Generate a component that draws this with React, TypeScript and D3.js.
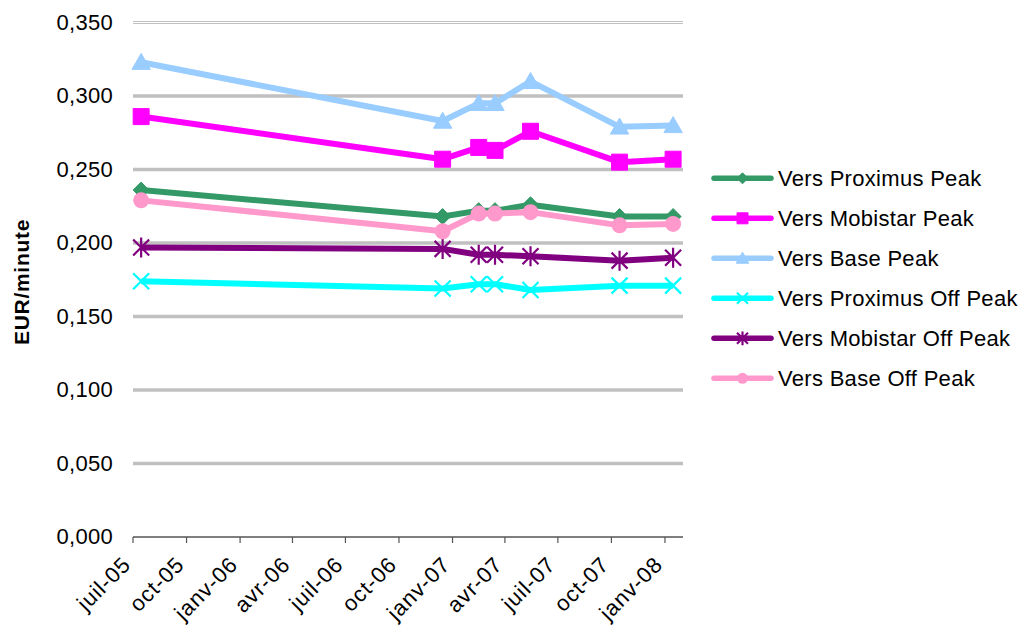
import React from 'react';
import * as d3 from 'd3';

// measurement dates (mid-month)
const dates = ['2005-07-15', '2006-12-15', '2007-02-15', '2007-03-15', '2007-05-15', '2007-10-15', '2008-01-15'];

const seriesNames = [
  'Vers Proximus Peak',
  'Vers Mobistar Peak',
  'Vers Base Peak',
  'Vers Proximus Off Peak',
  'Vers Mobistar Off Peak',
  'Vers Base Off Peak',
];

const proximusPeak = [0.236, 0.218, 0.222, 0.222, 0.226, 0.218, 0.218];
const mobistarPeak = [0.286, 0.257, 0.265, 0.263, 0.276, 0.255, 0.257];
const basePeak = [0.323, 0.283, 0.295, 0.295, 0.310, 0.279, 0.280];
const proximusOffPeak = [0.174, 0.169, 0.172, 0.172, 0.168, 0.171, 0.171];
const mobistarOffPeak = [0.197, 0.196, 0.192, 0.192, 0.191, 0.188, 0.190];
const baseOffPeak = [0.229, 0.208, 0.220, 0.220, 0.221, 0.212, 0.213];

const seriesValues = [proximusPeak, mobistarPeak, basePeak, proximusOffPeak, mobistarOffPeak, baseOffPeak];
const seriesColors = ['#339966', '#FF00FF', '#99CCFF', '#00FFFF', '#800080', '#FF99CC'];
const seriesMarkers = ['diamond', 'square', 'triangle', 'x', 'asterisk', 'circle'];

const monthNames = ['janv', 'févr', 'mars', 'avr', 'mai', 'juin', 'juil', 'août', 'sept', 'oct', 'nov', 'déc'];
const yTicks = [0, 0.05, 0.1, 0.15, 0.2, 0.25, 0.3, 0.35];

const font = 'Arial, "Liberation Sans", sans-serif';

const markerPath = (type: string, s: number) => {
  switch (type) {
    case 'diamond':
      return `M0,${-s}L${s},0L0,${s}L${-s},0Z`;
    case 'square':
      return `M${-s},${-s}H${s}V${s}H${-s}Z`;
    case 'triangle':
      return `M0,${-s * 1.1}L${s * 1.15},${s * 0.9}L${-s * 1.15},${s * 0.9}Z`;
    case 'x':
      return `M${-s},${-s}L${s},${s}M${s},${-s}L${-s},${s}`;
    case 'asterisk':
      return `M${-s},${-s}L${s},${s}M${s},${-s}L${-s},${s}M0,${-s * 1.25}V${s * 1.25}`;
    default:
      return '';
  }
};

const Marker = ({ type, color, x, y, s }: { type: string; color: string; x: number; y: number; s: number }) => {
  if (type === 'circle') {
    return <circle cx={x} cy={y} r={s} fill={color} />;
  }
  const open = type === 'x' || type === 'asterisk';
  return (
    <path
      d={markerPath(type, s)}
      transform={`translate(${x},${y})`}
      fill={open ? 'none' : color}
      stroke={color}
      strokeWidth={open ? 2.2 : 1}
    />
  );
};

export default function App() {
  const parse = d3.timeParse('%Y-%m-%d');
  const dateValues = dates.map((d) => parse(d) as Date);

  const x = d3
    .scaleTime()
    .domain([new Date(2005, 6, 1), new Date(2008, 1, 1)])
    .range([133, 683]);
  const y = d3.scaleLinear().domain([0, 0.35]).range([537, 22.5]);

  const xTicks = x.ticks(d3.timeMonth.every(3) as d3.TimeInterval);
  const fmt = d3.formatLocale({ decimal: ',', thousands: ' ', grouping: [3], currency: ['', '€'] }).format('.3f');

  const line = d3
    .line<number>()
    .x((_, i) => x(dateValues[i]))
    .y((v) => y(v));

  const [x0, x1] = x.range();
  const axisY = y(0);

  return (
    <svg width={1024} height={632} style={{ position: 'absolute', left: 0, top: 0, background: '#fff' }} fontFamily={font}>
      {/* gridlines */}
      {yTicks.slice(1).map((t) =>
        t === 0.35 ? (
          <g key={t} stroke="#C0C0C0" strokeWidth={1}>
            <line x1={x0} x2={x1} y1={y(t) - 1} y2={y(t) - 1} />
            <line x1={x0} x2={x1} y1={y(t) + 1} y2={y(t) + 1} />
          </g>
        ) : (
          <line key={t} x1={x0} x2={x1} y1={y(t)} y2={y(t)} stroke="#C0C0C0" strokeWidth={3.5} />
        )
      )}

      {/* y tick labels */}
      {yTicks.map((t) => (
        <text key={t} x={113} y={y(t)} dy="0.34em" textAnchor="end" fontSize={22} letterSpacing={0.3} fill="#000">
          {fmt(t)}
        </text>
      ))}

      {/* y title */}
      <text
        transform="translate(29,282) rotate(-90)"
        textAnchor="middle"
        fontSize={21}
        fontWeight="bold"
        letterSpacing={0.7}
        fill="#000"
      >
        EUR/minute
      </text>

      {/* x axis */}
      <line x1={x0} x2={x1} y1={axisY} y2={axisY} stroke="#000" strokeWidth={1.2} />
      {xTicks.map((t) => (
        <g key={t.getTime()}>
          <line x1={x(t)} x2={x(t)} y1={axisY} y2={axisY + 6} stroke="#555" strokeWidth={1.2} />
          <text
            transform={`translate(${x(t) - 1},${axisY + 29}) rotate(-45)`}
            textAnchor="end"
            fontSize={22}
            letterSpacing={0.9}
            fill="#000"
          >
            {`${monthNames[t.getMonth()]}-${d3.timeFormat('%y')(t)}`}
          </text>
        </g>
      ))}

      {/* series */}
      {seriesValues.map((vals, si) => (
        <g key={seriesNames[si]}>
          <path d={line(vals) || ''} fill="none" stroke={seriesColors[si]} strokeWidth={6} strokeLinejoin="round" />
          {vals.map((v, i) => (
            <Marker key={i} type={seriesMarkers[si]} color={seriesColors[si]} x={x(dateValues[i])} y={y(v)} s={8} />
          ))}
        </g>
      ))}

      {/* legend */}
      {seriesNames.map((name, si) => {
        const cy = 178.3 + si * 40;
        return (
          <g key={name}>
            <line x1={714} x2={771} y1={cy} y2={cy} stroke={seriesColors[si]} strokeWidth={5.5} strokeLinecap="round" />
            <Marker type={seriesMarkers[si]} color={seriesColors[si]} x={742.5} y={cy} s={5.5} />
            <text x={778} y={cy + 8} fontSize={22} letterSpacing={0.3} fill="#000">
              {name}
            </text>
          </g>
        );
      })}
    </svg>
  );
}
